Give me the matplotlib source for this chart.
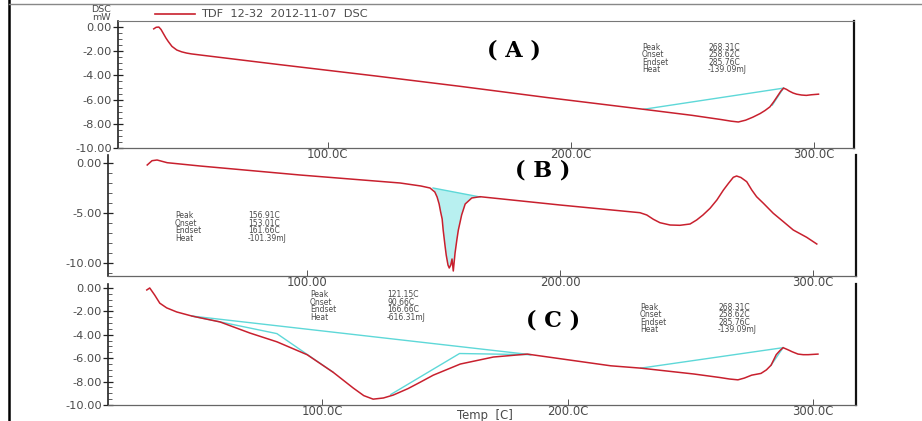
import numpy as np
import matplotlib
matplotlib.use("Agg")
import matplotlib.pyplot as plt
from matplotlib.ticker import MultipleLocator

# ---------------- data ----------------
# (A) DSC trace
temp_a = [28.5, 29.5, 30.6, 31.5, 32.5, 33.5, 34.5, 36, 38, 40, 42, 44, 48, 80, 120,
          154.5, 190, 230, 250, 262, 266, 269, 272, 275, 278, 280, 282, 283.5, 285,
          286.5, 287.6, 288.8, 290, 291.5, 293, 295, 297, 299, 302]
dsc_a = [-0.15, -0.02, 0.0, -0.2, -0.55, -0.9, -1.2, -1.6, -1.9, -2.05, -2.15, -2.22,
         -2.32, -3.1, -4.05, -4.9, -5.82, -6.8, -7.3, -7.65, -7.78, -7.85, -7.7, -7.45,
         -7.15, -6.9, -6.6, -6.2, -5.75, -5.3, -5.05, -5.15, -5.3, -5.45, -5.55, -5.62,
         -5.65, -5.6, -5.55]

# (B) DSC trace
temp_b = [36.8, 38.7, 40.7, 44.7, 57.7, 97.2, 136.8, 145, 148.6, 150.5, 151.4, 152.2,
          152.8, 153.4, 153.8, 154.5, 155.0, 155.7, 156.2, 156.8, 157.3, 157.8, 158.5,
          159.2, 159.8, 160.5, 161.1, 162.5, 165.1, 168.4, 200, 231.6, 234.3, 236.9,
          239.5, 243.5, 247.4, 251.4, 254.0, 256.5, 259.3, 262.0, 264.6, 266.6, 268.5,
          269.8, 271.5, 273.8, 275.8, 277.7, 280.4, 284.3, 288.3, 292.2, 297.5, 301.5]
dsc_b = [-0.2, 0.23, 0.3, 0.03, -0.3, -1.2, -2.0, -2.3, -2.5, -2.9, -3.4, -4.1, -4.9,
         -5.6, -6.7, -8.2, -9.2, -10.2, -10.5, -10.2, -9.6, -10.8, -9.0, -7.7, -6.7, -5.9,
         -5.2, -4.1, -3.5, -3.37, -4.2, -4.97, -5.2, -5.63, -5.97, -6.2, -6.23, -6.1,
         -5.7, -5.2, -4.53, -3.7, -2.7, -2.03, -1.43, -1.3, -1.45, -1.87, -2.7, -3.37,
         -4.03, -5.03, -5.87, -6.7, -7.43, -8.1]

# (C) DSC trace
temp_c = [28.6, 29.8, 31.8, 33.9, 36.7, 40.8, 47, 58.4, 70.6, 81.6, 93.9, 104.5, 112.7,
          117, 120.8, 125, 129, 135, 140, 145.3, 156.3, 169.8, 183.6, 204, 217.6, 229.8,
          251.4, 262, 266, 269.4, 272, 275, 278.8, 281, 282.9, 285, 286.5, 287.8, 290,
          291.5, 293.9, 296, 298, 302]
dsc_c = [-0.17, 0.0, -0.6, -1.3, -1.7, -2.05, -2.4, -2.9, -3.85, -4.6, -5.7, -7.2, -8.55,
         -9.2, -9.5, -9.4, -9.15, -8.6, -8.05, -7.45, -6.5, -5.9, -5.65, -6.25, -6.65,
         -6.85, -7.35, -7.65, -7.78, -7.85, -7.7, -7.45, -7.3, -7.0, -6.6, -5.7, -5.35,
         -5.1, -5.3, -5.45, -5.65, -5.7, -5.7, -5.65]

# integration baselines / tangents: (temp, dsc) pairs
base_a = [(230, -6.8), (287.6, -5.05)]
tang_a = [(283.0, -6.45), (287.6, -5.05)]
base_b = [(149.8, -2.5), (168.4, -3.4)]
base_c1 = [(47, -2.4), (185, -5.7)]
tang_c1_on = [(47, -2.4), (81.6, -3.9), (104.5, -7.2)]
tang_c1_end = [(128, -9.1), (156, -5.6), (185, -5.7)]
base_c2 = [(229.8, -6.85), (287.8, -5.1)]
tang_c2 = [(282.9, -6.6), (287.8, -5.1)]

peak_keys = ["Peak", "Onset", "Endset", "Heat"]
peak_a = ["268.31C", "258.62C", "285.76C", "-139.09mJ"]
peak_b = ["156.91C", "153.01C", "161.66C", "-101.39mJ"]
peak_c1 = ["121.15C", "90.66C", "166.66C", "-616.31mJ"]
peak_c2 = ["268.31C", "258.62C", "285.76C", "-139.09mJ"]

yt_a = [0, -2, -4, -6, -8, -10]
yl_a = ["0.00", "-2.00", "-4.00", "-6.00", "-8.00", "-10.00"]
yt_b = [0, -5, -10]
yl_b = ["0.00", "-5.00", "-10.00"]
xt = [100, 200, 300]
xl_a = ["100.0C", "200.0C", "300.0C"]
xl_b = ["100.00", "200.00", "300.0C"]
xl_c = ["100.0C", "200.0C", "300.0C"]

# ---------------- styling ----------------
W, H = 922, 421
RED = "#c8202e"
CYAN = "#5ed8d8"
TXT = "#4a4a4a"
FONT = "DejaVu Sans"

fig = plt.figure(figsize=(W / 100, H / 100), dpi=100)
fig.patch.set_facecolor("white")


def box(l, t, r, b):
    return [l / W, 1 - b / H, (r - l) / W, (b - t) / H]


def ftext(px, py, s, **kw):
    kw.setdefault("color", TXT)
    kw.setdefault("fontsize", 5.5)
    kw.setdefault("family", FONT)
    return fig.text(px / W, 1 - py / H, s, **kw)


def style(ax, xlim, ylim, yt, yl, xl, minor, top=False):
    ax.set_xlim(*xlim)
    ax.set_ylim(*ylim)
    ax.set_yticks(yt)
    ax.set_yticklabels(yl)
    ax.yaxis.set_minor_locator(MultipleLocator(minor))
    ax.set_xticks(xt)
    ax.set_xticklabels(xl)
    ax.tick_params(axis="y", which="major", direction="inout", length=7, width=0.9,
                   labelsize=8.2, labelcolor=TXT, pad=1, color="#222")
    ax.tick_params(axis="y", which="minor", direction="in", length=3, width=0.6,
                   color="#444")
    ax.tick_params(axis="x", which="major", direction="in", length=4, width=0.7,
                   labelsize=8.4, labelcolor=TXT, pad=0, color="#555")
    for lab in ax.get_xticklabels() + ax.get_yticklabels():
        lab.set_family(FONT)
    ax.spines["left"].set_color("#222")
    ax.spines["left"].set_linewidth(1.2)
    ax.spines["right"].set_color("#111")
    ax.spines["right"].set_linewidth(1.6)
    ax.spines["bottom"].set_color("#666")
    ax.spines["bottom"].set_linewidth(0.9)
    ax.spines["top"].set_visible(top)
    if top:
        ax.spines["top"].set_color("#777")
        ax.spines["top"].set_linewidth(0.8)
    ax.set_facecolor("none")


def seg(ax, pts, **kw):
    xs, ys = zip(*pts)
    ax.plot(xs, ys, color=CYAN, lw=1.0, zorder=2, **kw)


# ---------------- panel A ----------------
ax_a = fig.add_axes(box(118, 21, 854, 148))
style(ax_a, (13.8, 316.6), (-10, 0.5), yt_a, yl_a, xl_a, 0.5, top=True)
seg(ax_a, base_a)
seg(ax_a, tang_a)
ax_a.plot(temp_a, dsc_a, color=RED, lw=1.1, zorder=3)

# ---------------- panel B ----------------
ax_b = fig.add_axes(box(108, 155, 856, 276))
style(ax_b, (21.3, 317), (-11.3, 0.8), yt_b, yl_b, xl_b, 1.0)
tb = np.array(temp_b)
db = np.array(dsc_b)
inside = (tb > base_b[0][0]) & (tb < base_b[1][0])
poly_x = [base_b[0][0]] + list(tb[inside]) + [base_b[1][0]]
poly_y = [base_b[0][1]] + list(db[inside]) + [base_b[1][1]]
ax_b.fill(poly_x, poly_y, color="#b8f0f0", lw=0, zorder=1)
seg(ax_b, base_b)
ax_b.plot(temp_b, dsc_b, color=RED, lw=1.1, zorder=3)

# ---------------- panel C ----------------
ax_c = fig.add_axes(box(108, 284, 856, 405))
style(ax_c, (12.8, 317.5), (-10, 0.34), yt_a, yl_a, xl_c, 0.5)
seg(ax_c, base_c1)
seg(ax_c, tang_c1_on)
seg(ax_c, tang_c1_end)
seg(ax_c, base_c2)
seg(ax_c, tang_c2)
ax_c.plot(temp_c, dsc_c, color=RED, lw=1.1, zorder=3)

# ---------------- frame, legend and labels ----------------
fig.add_artist(plt.Line2D([9 / W, 9 / W], [0, 1], color="black", lw=1.8))
fig.add_artist(plt.Line2D([9 / W, 1], [1 - 4 / H, 1 - 4 / H], color="#888", lw=1.0))

ftext(101, 13.5, "DSC\nmW", ha="center", va="center", fontsize=6.8, linespacing=0.8,
      multialignment="center")
fig.add_artist(plt.Line2D([155 / W, 195 / W], [1 - 14 / H, 1 - 14 / H], color=RED, lw=1.2))
ftext(201, 14, "TDF  12-32  2012-11-07  DSC", ha="left", va="center", fontsize=8.2)
ftext(485, 415, "Temp  [C]", ha="center", va="center", fontsize=8.4)

for label, (cx, cy) in [("( A )", (514, 51)), ("( B )", (543, 171)), ("( C )", (553, 320))]:
    fig.text(cx / W, 1 - cy / H, label, ha="center", va="center", fontsize=16,
             fontweight="bold", family="DejaVu Serif", color="black")


def table(px_k, px_v, py_mid, vals, spacing):
    ftext(px_k, py_mid, "\n".join(peak_keys), ha="left", va="center",
          linespacing=spacing)
    ftext(px_v, py_mid, "\n".join(vals), ha="left", va="center",
          linespacing=spacing)


table(642, 708, 58.5, peak_a, 0.75)
table(175, 248, 227, peak_b, 0.78)
table(310, 387, 306, peak_c1, 0.78)
table(640, 718, 318.5, peak_c2, 0.8)

fig.savefig("out.png", dpi=100)
